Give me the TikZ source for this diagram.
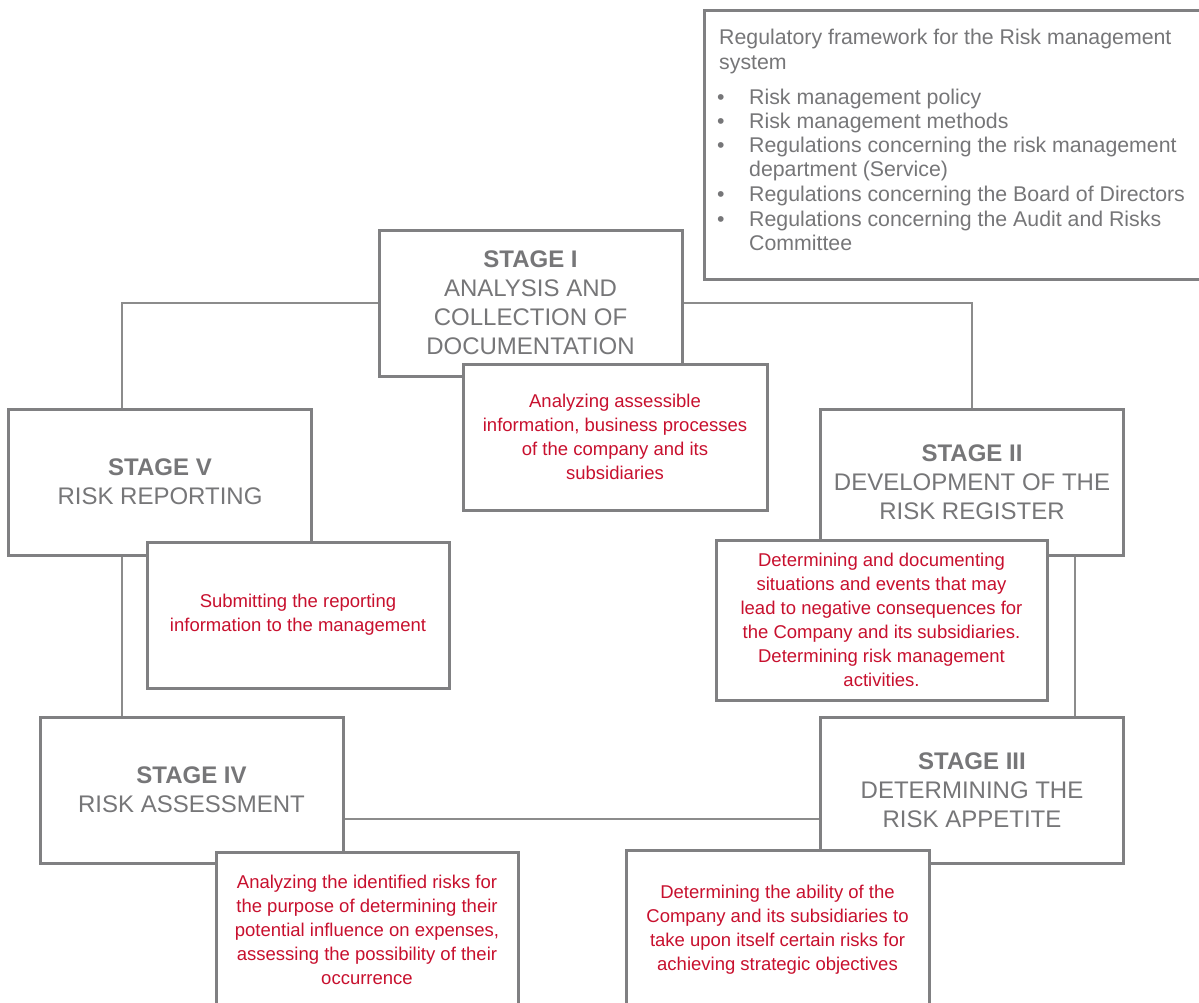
\documentclass[tikz,border=0pt]{standalone}
\usepackage{fontspec}
\setmainfont{Liberation Sans}
\usetikzlibrary{backgrounds}
\definecolor{bordergray}{RGB}{128,128,130}
\definecolor{txtgray}{RGB}{118,118,120}
\definecolor{linegray}{RGB}{140,140,140}
\definecolor{riskred}{RGB}{200,16,46}
\begin{document}
\begin{tikzpicture}[x=1pt,y=-1pt,
  stagebox/.style={draw=bordergray, line width=3pt, fill=white, minimum width=303pt,
    minimum height=146pt, inner sep=0pt, text=txtgray, align=center,
    font=\fontsize{24}{29}\selectfont},
  detailbox/.style={draw=bordergray, line width=3pt, fill=white, inner sep=0pt,
    text=riskred, align=center, font=\fontsize{18.5}{24}\selectfont},
  conn/.style={draw=linegray, line width=1.3pt},
  regtext/.style={text=txtgray, font=\fontsize{21.3}{24}\selectfont, anchor=base west, inner sep=0pt}]
\useasboundingbox (0,0) rectangle (1199,1003);

% regulatory framework box
\node[draw=bordergray, line width=3pt, fill=white, minimum width=500pt, minimum height=269pt,
  anchor=north west, inner sep=0pt] (reg) at (703,9) {};
\node[regtext] (r0) at (719,45) {Regulatory framework for the Risk management};
\node[regtext] (r0b) at (719,70) {system};
\node[regtext] (b1) at (717,105) {•};
\node[regtext] (r1) at (749,105) {Risk management policy};
\node[regtext] (b2) at (717,129) {•};
\node[regtext] (r2) at (749,129) {Risk management methods};
\node[regtext] (b3) at (717,153) {•};
\node[regtext] (r3) at (749,153) {Regulations concerning the risk management};
\node[regtext] (r3b) at (749,177) {department (Service)};
\node[regtext] (b4) at (717,202) {•};
\node[regtext] (r4) at (749,202) {Regulations concerning the Board of Directors};
\node[regtext] (b5) at (717,226) {•};
\node[regtext] (r5) at (749,226) {Regulations concerning the Audit and Risks};
\node[regtext] (r5b) at (749,250) {Committee};

% stages
\node[stagebox] (s1) at (530.5,303) {\textbf{STAGE I}\\ANALYSIS AND\\COLLECTION OF\\DOCUMENTATION};
\node[stagebox] (s2) at (972,482) {\textbf{STAGE II}\\DEVELOPMENT OF THE\\RISK REGISTER};
\node[stagebox] (s3) at (972,790) {\textbf{STAGE III}\\DETERMINING THE\\RISK APPETITE};
\node[stagebox] (s4) at (191.5,790) {\textbf{STAGE IV}\\RISK ASSESSMENT};
\node[stagebox] (s5) at (160,482) {\textbf{STAGE V}\\RISK REPORTING};

% details
\node[detailbox, minimum width=304pt, minimum height=146pt] (d1) at (615,437)
  {Analyzing assessible\\information, business processes\\of the company and its\\subsidiaries};
\node[detailbox, minimum width=331pt, minimum height=160pt] (d2) at (881.5,620)
  {Determining and documenting\\situations and events that may\\lead to negative consequences for\\the Company and its subsidiaries.\\Determining risk management\\activities.};
\node[detailbox, minimum width=303pt, minimum height=160pt] (d3) at (777.5,930)
  {Determining the ability of the\\Company and its subsidiaries to\\take upon itself certain risks for\\achieving strategic objectives};
\node[detailbox, minimum width=302pt, minimum height=156pt] (d4) at (367,930)
  {Analyzing the identified risks for\\the purpose of determining their\\potential influence on expenses,\\assessing the possibility of their\\occurrence};
\node[detailbox, minimum width=302pt, minimum height=146pt] (d5) at (298,615)
  {Submitting the reporting\\information to the management};

% connectors
\coordinate (xl) at (122,0);
\coordinate (xr) at (1075,0);
\coordinate (yb) at (0,819);
\begin{scope}[on background layer]
  \draw[conn] (s5.north -| xl) |- (s1.west);
  \draw[conn] (s1.east) -| (s2.north);
  \draw[conn] (s2.south -| xr) -- (s3.north -| xr);
  \draw[conn] (s3.west |- yb) -- (s4.east |- yb);
  \draw[conn] (s4.north -| xl) -- (s5.south -| xl);
\end{scope}
\end{tikzpicture}
\end{document}
